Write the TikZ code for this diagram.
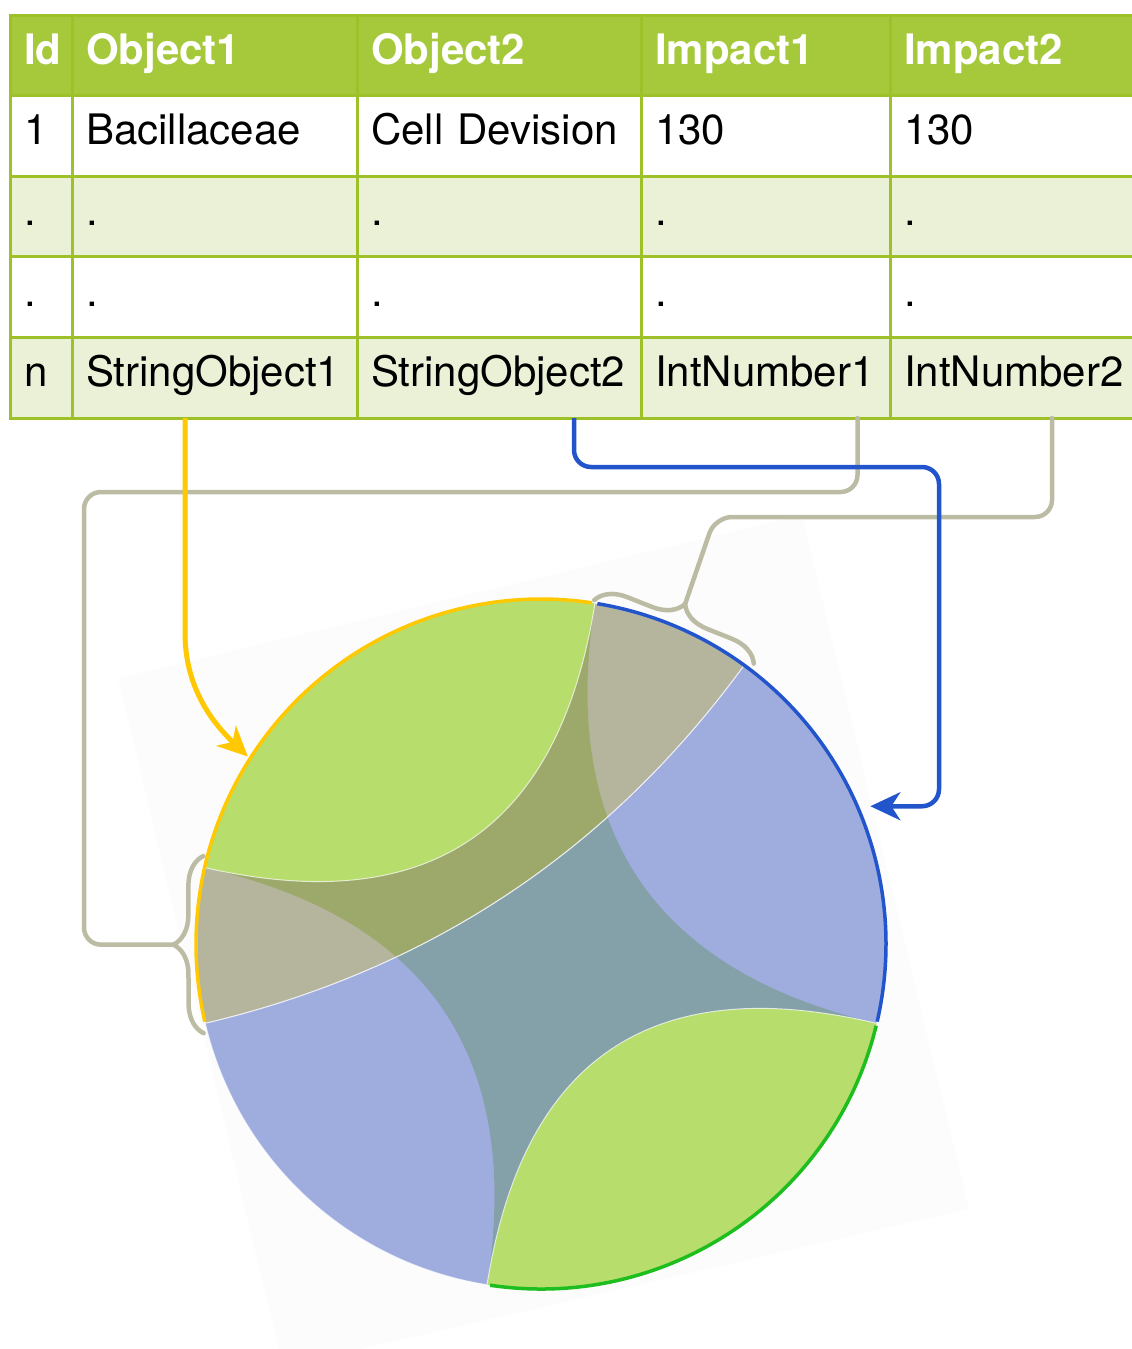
\documentclass[tikz,border=0pt]{standalone}
\usepackage{fontspec}
\setmainfont{TeX Gyre Heros}
\usetikzlibrary{arrows.meta,positioning,calc,decorations.pathreplacing}

\definecolor{headgreen}{RGB}{166,201,60}
\definecolor{gridgreen}{RGB}{158,193,42}
\definecolor{palegreen}{RGB}{234,241,215}
\definecolor{objyellow}{RGB}{255,200,0}
\definecolor{objblue}{RGB}{34,85,204}
\definecolor{impgrey}{RGB}{188,188,164}
\definecolor{ribgreen}{RGB}{154,208,48}
\definecolor{ribgrey}{RGB}{141,141,105}
\definecolor{riblav}{RGB}{102,124,205}
\definecolor{rimgreen}{RGB}{30,190,30}
\definecolor{photobg}{RGB}{252,252,252}

\begin{document}
\begin{tikzpicture}[x=1pt,y=-1pt,>={Stealth[length=30pt,width=28pt,inset=9pt]}]
  \tikzstyle{cell}=[draw=gridgreen,line width=3pt,anchor=north west,outer sep=0pt,inner xsep=14pt,inner ysep=0pt,minimum height=80.6pt,text height=30pt,text depth=12pt,align=left,font=\fontsize{42}{48}\selectfont]
  \tikzstyle{headrow}=[cell,fill=headgreen,text=white,font=\fontsize{42}{48}\selectfont\bfseries]
  \tikzstyle{whiterow}=[cell,fill=white]
  \tikzstyle{palerow}=[cell,fill=palegreen]
  \tikzstyle{colid}=[text width=34pt]
  \tikzstyle{colobja}=[text width=257pt]
  \tikzstyle{colobjb}=[text width=256pt]
  \tikzstyle{colimpa}=[text width=221pt]
  \tikzstyle{colimpb}=[text width=232pt]
  \tikzstyle{impline}=[draw=impgrey,line width=4.5pt,line cap=round]
  \tikzstyle{ribbon}=[draw=white,draw opacity=0.7,line width=1pt]
  \useasboundingbox (0,0) rectangle (1132,1349);

  % pasted chord picture, its faint background
  \fill[photobg] (118,678) -- (802,515) -- (969,1209) -- (283,1367) -- cycle;

  \begin{scope}[shift={(541,944)},x=1pt,y=1pt]
    \def\R{345}
    \def\Rc{115}
    \path[fill=ribgreen,fill opacity=0.7] (81:\R) arc[start angle=81,end angle=167.2,radius=\R]
      .. controls (167.2:\Rc) and (261:\Rc) .. (261:\R) arc[start angle=261,end angle=346.7,radius=\R]
      .. controls (346.7:\Rc) and (81:\Rc) .. (81:\R) -- cycle;
    \path[ribbon,fill=ribgrey,fill opacity=0.64] (167.2:\R) arc[start angle=167.2,end angle=193.3,radius=\R]
      .. controls (193.3:\Rc) and (53.9:\Rc) .. (53.9:\R) arc[start angle=53.9,end angle=81,radius=\R]
      .. controls (81:\Rc) and (167.2:\Rc) .. (167.2:\R) -- cycle;
    \path[ribbon,fill=riblav,fill opacity=0.62] (-13.3:\R) arc[start angle=-13.3,end angle=53.9,radius=\R]
      .. controls (53.9:\Rc) and (193.3:\Rc) .. (193.3:\R) arc[start angle=193.3,end angle=261,radius=\R]
      .. controls (261:\Rc) and (-13.3:\Rc) .. (-13.3:\R) -- cycle;
    % rims
    \draw[objyellow,line width=3.5pt] (81.5:\R) arc[start angle=81.5,end angle=193,radius=\R];
    \draw[objblue,line width=3.5pt] (-13:\R) arc[start angle=-13,end angle=80.6,radius=\R];
    \draw[rimgreen,line width=3.5pt] (261.5:\R) arc[start angle=261.5,end angle=346.3,radius=\R];
    \coordinate (yelin) at (147.4:348);
    \coordinate (bluein) at (22.7:357);
    \coordinate (bAstart) at (194.8:349);
    \coordinate (bAend) at (165.4:349);
    \coordinate (bBstart) at (81.2:348);
    \coordinate (bBend) at (52.8:352);
  \end{scope}

  % table
  \node[headrow,colid] (hid) at (10,15) {Id};
  \node[headrow,colobja] (hobja) at (hid.north east) {Object1};
  \node[headrow,colobjb] (hobjb) at (hobja.north east) {Object2};
  \node[headrow,colimpa] (himpa) at (hobjb.north east) {Impact1};
  \node[headrow,colimpb] (himpb) at (himpa.north east) {Impact2};
  \node[whiterow,colid] (id1) at (hid.south west) {1};
  \node[whiterow,colobja] (obja1) at (id1.north east) {Bacillaceae};
  \node[whiterow,colobjb] (objb1) at (obja1.north east) {Cell Devision};
  \node[whiterow,colimpa] (impa1) at (objb1.north east) {130};
  \node[whiterow,colimpb] (impb1) at (impa1.north east) {130};
  \node[palerow,colid] (id2) at (id1.south west) {.};
  \node[palerow,colobja] (obja2) at (id2.north east) {.};
  \node[palerow,colobjb] (objb2) at (obja2.north east) {.};
  \node[palerow,colimpa] (impa2) at (objb2.north east) {.};
  \node[palerow,colimpb] (impb2) at (impa2.north east) {.};
  \node[whiterow,colid] (id3) at (id2.south west) {.};
  \node[whiterow,colobja] (obja3) at (id3.north east) {.};
  \node[whiterow,colobjb] (objb3) at (obja3.north east) {.};
  \node[whiterow,colimpa] (impa3) at (objb3.north east) {.};
  \node[whiterow,colimpb] (impb3) at (impa3.north east) {.};
  \node[palerow,colid] (idn) at (id3.south west) {n};
  \node[palerow,colobja] (objan) at (idn.north east) {StringObject1};
  \node[palerow,colobjb] (objbn) at (objan.north east) {StringObject2};
  \node[palerow,colimpa] (impan) at (objbn.north east) {IntNumber1};
  \node[palerow,colimpb] (impbn) at (impan.north east) {IntNumber2};

  % braces and links
  \draw[impline,decorate,decoration={brace,amplitude=30pt}] (bAstart) -- (bAend);
  \draw[impline,decorate,decoration={brace,amplitude=30pt}] (bBstart) -- (bBend);
  \coordinate (tipA) at ($(bAstart)!0.5!(bAend)!30pt!90:(bAend)$);
  \coordinate (tipB) at ($(bBstart)!0.5!(bBend)!30pt!90:(bBend)$);
  \draw[impline,rounded corners=17pt] ([xshift=92pt]impan.south) |- (84,492) |- (tipA);
  \draw[impline,rounded corners=17pt] ([xshift=32pt]impbn.south) |- (715,517) -- (tipB);
  \draw[->,objblue,line width=4.5pt,rounded corners=17pt] ([xshift=75pt]objbn.south) |- (939,467) |- (bluein);
  \draw[->,objyellow,line width=5pt] ([xshift=-29.5pt]objan.south) -- (185,633) .. controls (185,690) and (215,725) .. (yelin);
\end{tikzpicture}
\end{document}
